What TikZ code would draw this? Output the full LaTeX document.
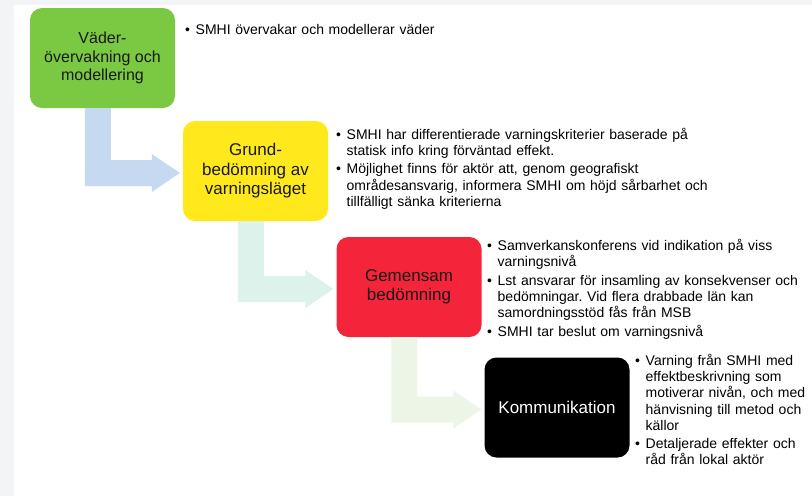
\documentclass[tikz,border=0pt]{standalone}
\usepackage{fontspec}
\setmainfont{Liberation Sans}
\usetikzlibrary{calc}
\frenchspacing
\definecolor{cbg}{HTML}{F3F4F6}
\definecolor{cgreen}{HTML}{7BC843}
\definecolor{cyellow}{HTML}{FFE91C}
\definecolor{cred}{HTML}{F4243A}
\definecolor{carrowA}{HTML}{C5D9F1}
\definecolor{carrowB}{HTML}{DDF2EA}
\definecolor{carrowC}{HTML}{EDF6E6}
\tikzset{
  stage/.style={draw=none, rounded corners=12pt, minimum width=145pt, minimum height=100pt,
    align=center, inner sep=0pt, text=black!90, font=\fontsize{17}{19.5}\selectfont},
  notes/.style={anchor=north west, inner sep=0pt, text width=420pt, align=left,
    font=\fontsize{14}{16.3}\selectfont},
}
\newcommand{\bitem}[1]{\par\noindent\hangindent=10.5pt\hangafter=1\strut\makebox[10.5pt][l]{•}#1\par}
\newcommand{\bsep}{\par\vspace{2pt}}
\newcommand{\Larrow}[3]{%
  \fill[#3] let \p1=(#1.south west), \p2=(#2.west) in
    (\x1+55pt,\y1) -- (\x1+81pt,\y1) -- (\x1+81pt,\y2+11pt) -- (\x2-31pt,\y2+11pt)
    -- (\x2-31pt,\y2+17pt) -- (\x2-3pt,\y2-2pt) -- (\x2-31pt,\y2-21pt)
    -- (\x2-31pt,\y2-15pt) -- (\x1+55pt,\y2-15pt) -- cycle;}
\begin{document}
\begin{tikzpicture}[x=1pt,y=-1pt]
\useasboundingbox (0,0) rectangle (812,496);
\fill[cbg] (0,0) rectangle (812,496);
\fill[white] (14,5) rectangle (812,496);

\node[stage, fill=cgreen, font=\fontsize{16}{18.5}\selectfont] (b1) at (102.5,58) {Väder-\\övervakning och\\modellering};
\node[stage, fill=cyellow] (b2) at (255.5,171) {Grund-\\bedömning av\\varningsläget};
\node[stage, fill=cred] (b3) at (409,287) {Gemensam\\bedömning};
\node[stage, fill=black, text=white] (b4) at (557,407.5) {Kommunikation};

\Larrow{b1}{b2}{carrowA}
\Larrow{b2}{b3}{carrowB}
\Larrow{b3}{b4}{carrowC}

\node[notes] (n1) at (185,17.6) {\bitem{SMHI övervakar och modellerar väder}};
\node[notes] (n2) at (336,122.6) {%
  \bitem{SMHI har differentierade varningskriterier baserade på\newline statisk info kring förväntad effekt.}\bsep
  \bitem{Möjlighet finns för aktör att, genom geografiskt\newline områdesansvarig, informera SMHI om höjd sårbarhet och\newline tillfälligt sänka kriterierna}};
\node[notes] (n3) at (487,234.1) {%
  \bitem{Samverkanskonferens vid indikation på viss\newline varningsnivå}\bsep
  \bitem{Lst ansvarar för insamling av konsekvenser och\newline bedömningar. Vid flera drabbade län kan\newline samordningsstöd fås från MSB}\bsep
  \bitem{SMHI tar beslut om varningsnivå}};
\node[notes] (n4) at (635,348.6) {%
  \bitem{Varning från SMHI med\newline effektbeskrivning som\newline motiverar nivån, och med\newline hänvisning till metod och\newline källor}\bsep
  \bitem{Detaljerade effekter och\newline råd från lokal aktör}};
\end{tikzpicture}
\end{document}
